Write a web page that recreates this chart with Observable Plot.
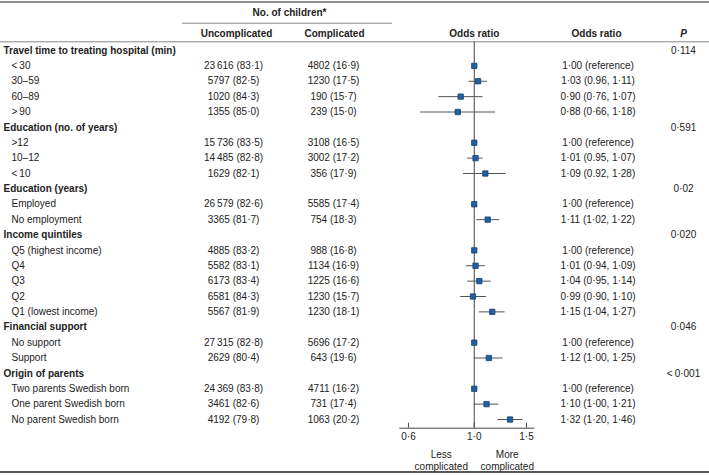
<!DOCTYPE html>
<html>
<head>
<meta charset="utf-8">
<script src="https://cdn.jsdelivr.net/npm/d3@7"></script>
<script src="https://cdn.jsdelivr.net/npm/@observablehq/plot@0.6"></script>
<style>
  html, body { margin: 0; padding: 0; background: #fff; }
</style>
</head>
<body>
<div id="chart"></div>
<script>
// ---------------- data ----------------
const groups = [
  "Travel time to treating hospital (min)",
  "Education (no. of years)",
  "Education (years)",
  "Income quintiles",
  "Financial support",
  "Origin of parents"
];
const pValues = ["0·114", "0·591", "0·02", "0·020", "0·046", "<\u20090·001"];

const categories = [
  "<\u200930", "30–59", "60–89", ">\u200990",
  ">12", "10–12", "<\u200910",
  "Employed", "No employment",
  "Q5 (highest income)", "Q4", "Q3", "Q2", "Q1 (lowest income)",
  "No support", "Support",
  "Two parents Swedish born", "One parent Swedish born", "No parent Swedish born"
];
const categoryGroup = [0,0,0,0, 1,1,1, 2,2, 3,3,3,3,3, 4,4, 5,5,5];

const uncomplicatedN   = [23616, 5797, 1020, 1355, 15736, 14485, 1629, 26579, 3365, 4885, 5582, 6173, 6581, 5567, 27315, 2629, 24369, 3461, 4192];
const uncomplicatedPct = [83.1, 82.5, 84.3, 85.0, 83.5, 82.8, 82.1, 82.6, 81.7, 83.2, 83.1, 83.4, 84.3, 81.9, 82.8, 80.4, 83.8, 82.6, 79.8];
const complicatedN     = [4802, 1230, 190, 239, 3108, 3002, 356, 5585, 754, 988, 1134, 1225, 1230, 1230, 5696, 643, 4711, 731, 1063];
const complicatedPct   = [16.9, 17.5, 15.7, 15.0, 16.5, 17.2, 17.9, 17.4, 18.3, 16.8, 16.9, 16.6, 15.7, 18.1, 17.2, 19.6, 16.2, 17.4, 20.2];

const oddsRatio = [1.00, 1.03, 0.90, 0.88, 1.00, 1.01, 1.09, 1.00, 1.11, 1.00, 1.01, 1.04, 0.99, 1.15, 1.00, 1.12, 1.00, 1.10, 1.32];
const ciLow     = [null, 0.96, 0.76, 0.66, null, 0.95, 0.92, null, 1.02, null, 0.94, 0.95, 0.90, 1.04, null, 1.00, null, 1.00, 1.20];
const ciHigh    = [null, 1.11, 1.07, 1.18, null, 1.07, 1.28, null, 1.22, null, 1.09, 1.14, 1.10, 1.27, null, 1.25, null, 1.21, 1.46];
const orLabels = [
  "1·00 (reference)", "1·03 (0.96, 1·11)", "0·90 (0·76, 1·07)", "0·88 (0·66, 1·18)",
  "1·00 (reference)", "1·01 (0.95, 1·07)", "1·09 (0.92, 1·28)",
  "1·00 (reference)", "1·11 (1·02, 1·22)",
  "1·00 (reference)", "1·01 (0·94, 1·09)", "1·04 (0·95, 1·14)", "0·99 (0·90, 1·10)", "1·15 (1·04, 1·27)",
  "1·00 (reference)", "1·12 (1·00, 1·25)",
  "1·00 (reference)", "1·10 (1·00, 1·21)", "1·32 (1·20, 1·46)"
];

const tickValues = [0.6, 1.0, 1.5];
const tickLabels = ["0·6", "1·0", "1·5"];
const xDomain = [0.561, 1.6];

// ---------------- table rows ----------------
const fmtN = n => {
  const s = String(n);
  return n >= 10000 ? s.slice(0, s.length - 3) + "\u2009" + s.slice(-3) : s;
};
const fmtPct = v => v.toFixed(1).replace(".", "·");

const rows = [];
let idx = 0;
groups.forEach((g, gi) => {
  rows.push({i: idx++, type: "group", label: g, p: pValues[gi]});
  categories.forEach((c, ci) => {
    if (categoryGroup[ci] !== gi) return;
    rows.push({
      i: idx++, type: "cat", label: c,
      unc: `${fmtN(uncomplicatedN[ci])} (${fmtPct(uncomplicatedPct[ci])})`,
      com: `${fmtN(complicatedN[ci])} (${fmtPct(complicatedPct[ci])})`,
      or: oddsRatio[ci], lo: ciLow[ci], hi: ciHigh[ci], orText: orLabels[ci]
    });
  });
});
const groupRows = rows.filter(d => d.type === "group");
const catRows = rows.filter(d => d.type === "cat");
const ciRows = catRows.filter(d => d.lo != null);

// layout (in row units)
const R = {
  topLine: -3.154, childrenHdr: -2.43, childrenLine: -1.776, colHdr: -1.086,
  hdrLine: -0.566, axis: 24.566, tickTop: 24.24, tickLabel: 25.15, axisNote: 26.63, bottomLine: 27.42
};

const ink = "#222";
const font = "'Liberation Sans', Arial, Helvetica, sans-serif";

const chart = Plot.plot({
  width: 709,
  height: 476,
  margin: 0,
  style: {fontFamily: font, fontSize: "10px", color: ink, background: "#fff", overflow: "visible"},
  x: {type: "log", domain: xDomain, range: [399.3, 534.3], axis: null},
  y: {type: "linear", domain: [0, 24], range: [50, 419], axis: null},
  marks: [
    // horizontal table rules
    Plot.ruleY([R.topLine], {stroke: "#666", strokeWidth: 1.6}),
    Plot.ruleY([R.childrenLine], {stroke: "#888", strokeWidth: 1, insetLeft: 182, insetRight: 709 - 392}),
    Plot.ruleY([R.hdrLine], {stroke: "#888", strokeWidth: 1}),
    Plot.ruleY([R.bottomLine], {stroke: "#555", strokeWidth: 2}),

    // header texts
    Plot.text(["No. of children*"], {frameAnchor: "left", dx: 289, y: () => R.childrenHdr, text: d => d, fontWeight: "bold", textAnchor: "middle", fill: ink}),
    Plot.text(["Uncomplicated"], {frameAnchor: "left", dx: 236, y: () => R.colHdr, text: d => d, fontWeight: "bold", textAnchor: "middle", fill: ink}),
    Plot.text(["Complicated"], {frameAnchor: "left", dx: 334, y: () => R.colHdr, text: d => d, fontWeight: "bold", textAnchor: "middle", fill: ink}),
    Plot.text(["Odds ratio"], {x: () => 1, y: () => R.colHdr, text: d => d, fontWeight: "bold", textAnchor: "middle", fill: ink}),
    Plot.text(["Odds ratio"], {frameAnchor: "left", dx: 596, y: () => R.colHdr, text: d => d, fontWeight: "bold", textAnchor: "middle", fill: ink}),
    Plot.text(["P"], {frameAnchor: "left", dx: 683, y: () => R.colHdr, text: d => d, fontWeight: "bold", fontStyle: "italic", textAnchor: "middle", fill: ink}),

    // group rows
    Plot.text(groupRows, {frameAnchor: "left", dx: 3, y: "i", text: "label", fontWeight: "bold", textAnchor: "start", fill: ink}),
    Plot.text(groupRows, {frameAnchor: "left", dx: 683, y: "i", text: "p", textAnchor: "middle", fill: ink}),

    // category rows
    Plot.text(catRows, {frameAnchor: "left", dx: 11, y: "i", text: "label", textAnchor: "start", fill: ink}),
    Plot.text(catRows, {frameAnchor: "left", dx: 233, y: "i", text: "unc", textAnchor: "middle", fill: ink}),
    Plot.text(catRows, {frameAnchor: "left", dx: 333, y: "i", text: "com", textAnchor: "middle", fill: ink}),
    Plot.text(catRows, {frameAnchor: "left", dx: 597.5, y: "i", text: "orText", textAnchor: "middle", fill: ink}),

    // forest plot
    Plot.ruleX([1], {y1: R.hdrLine, y2: R.axis, stroke: "#444", strokeWidth: 1}),
    Plot.ruleY([{y: R.axis, x1: xDomain[0], x2: xDomain[1]}], {y: "y", x1: "x1", x2: "x2", stroke: "#444", strokeWidth: 1}),
    Plot.ruleX(tickValues, {y1: R.axis, y2: R.tickTop, stroke: "#444", strokeWidth: 1}),
    Plot.text(tickValues, {x: d => d, y: () => R.tickLabel, text: (d, i) => tickLabels[i], textAnchor: "middle", fill: ink}),
    Plot.text(["Less\ncomplicated"], {x: () => 1, dx: -33, y: () => R.axisNote, text: d => d, textAnchor: "middle", lineHeight: 1.24, fill: ink}),
    Plot.text(["More\ncomplicated"], {x: () => 1, dx: 33, y: () => R.axisNote, text: d => d, textAnchor: "middle", lineHeight: 1.24, fill: ink}),
    Plot.ruleY(ciRows, {y: "i", x1: "lo", x2: "hi", stroke: "#555", strokeWidth: 1}),
    Plot.dot(catRows, {x: "or", y: "i", symbol: "square", r: 3, fill: "#2161a3", stroke: "#12406f", strokeWidth: 0.8})
  ]
});
document.getElementById("chart").appendChild(chart);
</script>
</body>
</html>
